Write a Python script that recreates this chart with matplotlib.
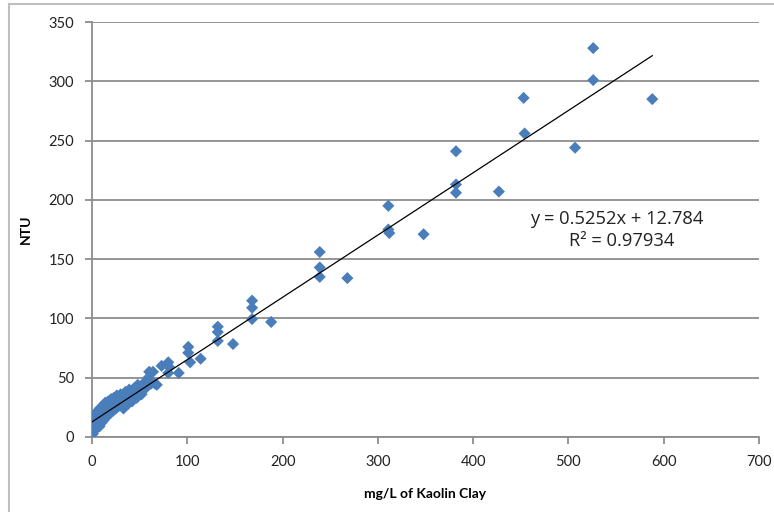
import matplotlib
matplotlib.use("Agg")
import matplotlib.pyplot as plt
from matplotlib.lines import Line2D
import numpy as np

# kaolin clay concentration (mg/L) vs turbidity (NTU)
clay = [0, 0, 0, 0, 0, 0.5, 1, 1, 2, 2, 3, 3, 4, 4, 5, 5, 6, 6, 7, 8, 8, 9, 10, 10,
        11, 12, 12, 13, 14, 14, 15, 16, 17, 18, 19, 20, 21, 22, 23, 24, 25, 26, 27,
        28, 30, 31, 32, 33, 35, 36, 38, 39, 40, 42, 44, 45, 47, 48, 50, 52, 55, 56,
        58, 60, 59, 62, 64, 66, 68, 73, 80, 81, 80, 91, 101, 101, 103, 114, 132, 132,
        132, 148, 168, 168, 168, 188, 239, 239, 239, 268, 311, 311, 312, 348, 382,
        382, 382, 427, 453, 454, 507, 526, 526, 588]
ntu = [2, 4, 6, 8, 10, 12, 3, 14, 5, 16, 7, 18, 9, 12, 20, 8, 11, 22, 14, 9, 24, 17,
       12, 25, 20, 14, 27, 22, 16, 29, 25, 18, 30, 26, 20, 32, 28, 22, 33, 30, 24, 35,
       31, 26, 36, 29, 33, 24, 38, 31, 28, 40, 34, 30, 41, 36, 33, 44, 38, 36, 46, 41,
       43, 55, 50, 45, 55, 45, 44, 60, 63, 59, 54, 54, 76, 71, 63, 66, 93, 88.5, 81,
       78.4, 115, 109, 99.5, 97, 156, 143, 135, 134, 195, 175, 172, 171, 241, 213,
       206, 207, 286, 256, 244, 328, 301, 285]

slope = 0.5252
intercept = 12.784
r2 = 0.97934

xticks = [0, 100, 200, 300, 400, 500, 600, 700]
yticks = [0, 50, 100, 150, 200, 250, 300, 350]

plt.rcParams['font.family'] = ['Lato', 'DejaVu Sans']

fig = plt.figure(figsize=(7.74, 5.12), dpi=100)
ax = fig.add_axes([0.1189, 0.1465, 0.8617, 0.8105])

ax.scatter(clay, ntu, marker='D', s=38, color='#4a7ebb', edgecolors='none', zorder=3)

# linear trendline over data range
xl = np.array([min(clay), max(clay)])
ax.plot(xl, slope * xl + intercept, color='black', lw=0.9, zorder=4)

ax.set_xlim(0, 700)
ax.set_ylim(0, 350)
ax.set_xticks(xticks)
ax.set_yticks(yticks)
ax.yaxis.grid(True, color='#8c8c8c', lw=1.3)
ax.set_axisbelow(True)

for s in ['top', 'right']:
    ax.spines[s].set_visible(False)
for s in ['left', 'bottom']:
    ax.spines[s].set_color('#8c8c8c')
    ax.spines[s].set_linewidth(1.3)

ax.tick_params(axis='both', colors='#8c8c8c', labelcolor='#222222', labelsize=10.5,
               length=5, width=1.3)
ax.tick_params(axis='x', pad=8)
ax.tick_params(axis='y', pad=8)

ax.set_xlabel('mg/L of Kaolin Clay', fontsize=10, fontweight='bold', labelpad=14)
ax.set_ylabel('NTU', fontsize=10, fontweight='bold', labelpad=12)

ax.text(551, 184, 'y = 0.5252x + 12.784', fontsize=13.2, ha='center', va='center',
        family=['Open Sans', 'DejaVu Sans'], color='#222222')
ax.text(556, 165, 'R² = %.5f' % r2, fontsize=13.2, ha='center', va='center',
        family=['Open Sans', 'DejaVu Sans'], color='#222222')

# chart area border (partly cropped in the screenshot)
W, H = 774, 512
fig.add_artist(Line2D([9 / W, 1], [1 - 4 / H, 1 - 4 / H], transform=fig.transFigure,
                      color='#bfbfbf', lw=1.5))
fig.add_artist(Line2D([9 / W, 9 / W], [0, 1 - 4 / H], transform=fig.transFigure,
                      color='#bfbfbf', lw=1.5))

fig.savefig('out.png', dpi=100)
